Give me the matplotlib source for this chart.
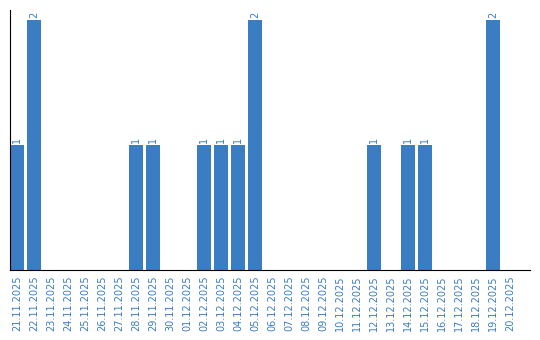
import matplotlib.pyplot as plt

dates = ["21.11.2025", "22.11.2025", "23.11.2025", "24.11.2025", "25.11.2025",
         "26.11.2025", "27.11.2025", "28.11.2025", "29.11.2025", "30.11.2025",
         "01.12.2025", "02.12.2025", "03.12.2025", "04.12.2025", "05.12.2025",
         "06.12.2025", "07.12.2025", "08.12.2025", "09.12.2025", "10.12.2025",
         "11.12.2025", "12.12.2025", "13.12.2025", "14.12.2025", "15.12.2025",
         "16.12.2025", "17.12.2025", "18.12.2025", "19.12.2025", "20.12.2025"]
counts = [1, 2, 0, 0, 0, 0, 0, 1, 1, 0,
          0, 1, 1, 1, 2, 0, 0, 0, 0, 0,
          0, 1, 0, 1, 1, 0, 0, 0, 2, 0]

blue = "#3b7dc3"
slot = 17.0  # pixels per category
bar_w = 14.0 / slot

fig = plt.figure(figsize=(5.4, 3.4), dpi=100)
# axes from x=10..530 px, y=10..270 px
ax = fig.add_axes([10 / 540, 70 / 340, 520 / 540, 260 / 340])

xs = list(range(len(dates)))
ax.bar(xs, counts, width=bar_w, align="edge", color=blue)

for x, c in zip(xs, counts):
    if c > 0:
        ax.text(x + bar_w / 2, c + 0.02, str(c), rotation=90, ha="center",
                va="bottom", color=blue, fontsize=7)

ax.set_xlim(0, 520 / slot)
ax.set_ylim(0, 2 * 260 / 250)
ax.set_xticks([x + bar_w / 2 for x in xs])
ax.set_xticklabels(dates, rotation=90, color=blue, fontsize=7)
ax.tick_params(axis="x", length=0, pad=4)
ax.set_yticks([])

for side in ["top", "right"]:
    ax.spines[side].set_visible(False)
ax.spines["left"].set_color("black")
ax.spines["bottom"].set_color("black")

fig.savefig("out.png", dpi=100)
